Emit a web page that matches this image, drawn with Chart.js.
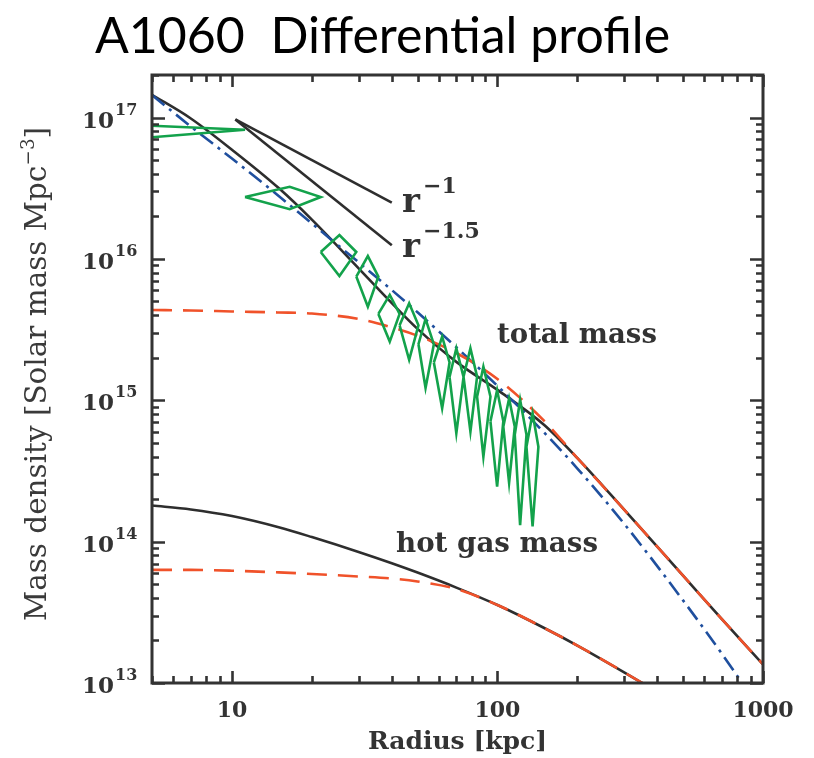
<!DOCTYPE html>
<html>
<head>
<meta charset="utf-8">
<script src="https://cdn.jsdelivr.net/npm/chart.js@4.4.0/dist/chart.umd.min.js"></script>
<style>
  html, body { margin: 0; padding: 0; background: #ffffff; }
  canvas { display: block; }
</style>
</head>
<body>
<canvas id="c" width="814" height="758"></canvas>
<script>
// Radius grid (kpc) for the model curves
const modelR = [5, 7, 10, 15, 20, 30, 40, 50, 70, 100, 150, 200, 300, 500, 700, 1000];
// Total mass density, solid model
const totalMassModel = [1.449e17, 9.85e16, 5.92e16, 3.17e16, 1.897e16, 8.58e15, 4.87e15, 3.20e15, 1.87e15, 1.184e15, 6.69e14, 3.90e14, 1.684e14, 5.75e13, 2.83e13, 1.354e13];
// Total mass density, dashed fit
const totalMassFit = [4.35e15, 4.32e15, 4.25e15, 4.18e15, 4.11e15, 3.76e15, 3.28e15, 2.86e15, 2.16e15, 1.414e15, 7.14e14, 3.90e14, 1.684e14, 5.75e13, 2.83e13, 1.354e13];
// Total mass density, dash-dot profile
const totalMassAlt = [1.443e17, 8.65e16, 5.13e16, 2.79e16, 1.78e16, 9.46e15, 6.02e15, 4.19e15, 2.37e15, 1.264e15, 5.90e14, 3.29e14, 1.338e14, 3.84e13, 1.61e13, 6.09e12];

// Hot gas mass density
const gasR = [5, 7, 10, 15, 20, 30, 40, 50, 70, 100, 150, 200, 300, 500];
const gasMassModel = [1.80e14, 1.69e14, 1.517e14, 1.264e14, 1.077e14, 8.45e13, 7.03e13, 6.04e13, 4.73e13, 3.56e13, 2.45e13, 1.84e13, 1.19e13, 6.7e12];
const gasMassFit = [6.31e13, 6.31e13, 6.23e13, 6.06e13, 5.91e13, 5.67e13, 5.49e13, 5.23e13, 4.63e13, 3.56e13, 2.45e13, 1.84e13, 1.19e13, 6.7e12];

// Power-law slope guides
const guideR = [10.3, 40];
const slopeMinus1 = [9.7e16, 2.5e16];
const slopeMinus15 = [9.7e16, 1.25e16];

// Binned measurements: bin centre, bin edges, density and its upper / lower bound
const obsR    = [4.0, 16.5, 25.4, 32.5, 39.3, 46.5, 53.6, 61.9, 70.0, 79.1, 88.5, 99.7, 110.6, 121.7, 135.6];
const obsRLo  = [2.0, 11.2, 21.6, 29.4, 35.6, 42.8, 50.4, 57.6, 66.0, 74.5, 83.8, 94.1, 105.2, 116.2, 128.6];
const obsRHi  = [11.2, 21.6, 29.4, 35.6, 42.8, 50.4, 57.6, 66.0, 74.5, 83.8, 94.1, 105.2, 116.2, 128.6, 142.6];
const obsRho  = [8.2e16, 2.74e16, 1.12e16, 7.5e15, 4.08e15, 3.39e15, 2.49e15, 1.85e15, 1.46e15, 1.47e15, 1.06e15, 7.1e14, 6.5e14, 5.7e14, 4.68e14];
const obsRhoHi = [8.92e16, 3.24e16, 1.475e16, 1.048e16, 5.56e15, 4.85e15, 3.76e15, 2.82e15, 2.33e15, 2.33e15, 1.73e15, 1.18e15, 1.03e15, 1.005e15, 8.09e14];
const obsRhoLo = [7.01e16, 2.25e16, 7.57e15, 4.59e15, 2.6e15, 1.93e15, 1.22e15, 8.77e14, 5.85e14, 6.0e14, 3.99e14, 2.45e14, 2.61e14, 1.31e14, 1.28e14];

// Axis ticks
const xTickValues = [10, 100, 1000];
const yTickExponents = [13, 14, 15, 16, 17];

const INK = '#333333';
const SERIF = '"DejaVu Serif", "Liberation Serif", serif';

const pairs = (xs, ys) => xs.map((v, i) => ({ x: v, y: ys[i] }));

// Each bin becomes a closed diamond; null points break the path between bins
const diamonds = [];
obsR.forEach((r, i) => {
  diamonds.push({ x: obsRLo[i], y: obsRho[i] });
  diamonds.push({ x: r, y: obsRhoHi[i] });
  diamonds.push({ x: obsRHi[i], y: obsRho[i] });
  diamonds.push({ x: r, y: obsRhoLo[i] });
  diamonds.push({ x: obsRLo[i], y: obsRho[i] });
  diamonds.push({ x: r, y: null });
});

const curve = (label, data, color, dash, order) => ({
  label, data, borderColor: color, borderWidth: 2.6, borderDash: dash,
  pointRadius: 0, fill: false, cubicInterpolationMode: 'monotone', order
});

function fitSize(ctx, text, weight, family, target) {
  ctx.font = `${weight} 100px ${family}`;
  return 100 * target / ctx.measureText(text).width;
}

const decor = {
  id: 'decor',
  beforeDraw(chart) {
    const { ctx, width, height } = chart;
    ctx.save();
    ctx.fillStyle = '#ffffff';
    ctx.fillRect(0, 0, width, height);
    ctx.restore();
  },
  afterDatasetsDraw(chart) {
    const { ctx, chartArea: a, scales: { x, y } } = chart;
    ctx.save();
    ctx.strokeStyle = INK;
    ctx.lineWidth = 2.6;
    ctx.lineCap = 'butt';
    // inward tick marks on all four sides
    ctx.beginPath();
    for (let d = 1; d <= 1000; d *= 10) {
      for (let m = 1; m <= 9; m++) {
        const v = m * d;
        if (v < 5 || v > 1000) continue;
        const px = Math.round(x.getPixelForValue(v)) + 0.5;
        const len = m === 1 ? 12 : 7;
        ctx.moveTo(px, a.bottom); ctx.lineTo(px, a.bottom - len);
        ctx.moveTo(px, a.top); ctx.lineTo(px, a.top + len);
      }
    }
    for (let e = 13; e <= 17; e++) {
      for (let m = 1; m <= 9; m++) {
        const v = m * Math.pow(10, e);
        if (v > y.max) continue;
        const py = Math.round(y.getPixelForValue(v)) + 0.5;
        const len = m === 1 ? 13 : 7;
        ctx.moveTo(a.left, py); ctx.lineTo(a.left + len, py);
        ctx.moveTo(a.right, py); ctx.lineTo(a.right - len, py);
      }
    }
    ctx.stroke();
    ctx.lineWidth = 3;
    ctx.strokeRect(a.left, a.top, a.right - a.left, a.bottom - a.top);
    ctx.restore();
  },
  afterDraw(chart) {
    const { ctx, scales: { y } } = chart;
    ctx.save();
    ctx.fillStyle = '#000000';
    ctx.textBaseline = 'alphabetic';

    // chart title
    ctx.font = '400 50px Lato, "Open Sans", sans-serif';
    ctx.textAlign = 'left';
    ctx.fillText('A1060  Differential profile', 95, 53, 577);

    ctx.fillStyle = INK;
    // y tick labels: 10 with raised exponent
    yTickExponents.forEach(e => {
      const py = y.getPixelForValue(Math.pow(10, e));
      ctx.font = `bold 23px ${SERIF}`;
      ctx.textAlign = 'right';
      ctx.fillText('10', 114, py + 10);
      ctx.font = `bold 16px ${SERIF}`;
      ctx.textAlign = 'left';
      ctx.fillText(String(e), 115, py - 3);
    });

    // y axis title with superscript
    ctx.save();
    ctx.translate(46, 374);
    ctx.rotate(-Math.PI / 2);
    ctx.fillStyle = '#3a3a3a';
    const main = 'Mass density [Solar mass Mpc';
    const sup = '\u22123';
    const close = ']';
    ctx.font = `400 100px ${SERIF}`;
    const wMain = ctx.measureText(main).width, wClose = ctx.measureText(close).width;
    ctx.font = `400 62px ${SERIF}`;
    const wSup = ctx.measureText(sup).width;
    const s = 100 * 494 / (wMain + wSup + wClose);
    let cx = -247;
    ctx.textAlign = 'left';
    ctx.font = `400 ${s}px ${SERIF}`;
    ctx.fillText(main, cx, 0); cx += wMain * s / 100;
    ctx.font = `400 ${s * 0.62}px ${SERIF}`;
    ctx.fillText(sup, cx, -s * 0.42); cx += wSup * s / 100;
    ctx.font = `400 ${s}px ${SERIF}`;
    ctx.fillText(close, cx, 0);
    ctx.restore();

    // curve annotations
    ctx.textAlign = 'left';
    let fs = fitSize(ctx, 'total mass', 'bold', SERIF, 160);
    ctx.font = `bold ${fs}px ${SERIF}`;
    ctx.fillText('total mass', 497, 343);
    fs = fitSize(ctx, 'hot gas mass', 'bold', SERIF, 202);
    ctx.font = `bold ${fs}px ${SERIF}`;
    ctx.fillText('hot gas mass', 396, 552);

    ctx.font = `bold 34px ${SERIF}`;
    ctx.fillText('r', 402, 212);
    ctx.fillText('r', 402, 257);
    ctx.font = `bold 22px ${SERIF}`;
    ctx.fillText('\u22121', 423, 193);
    ctx.fillText('\u22121.5', 423, 238);
    ctx.restore();
  }
};

new Chart(document.getElementById('c'), {
  type: 'line',
  data: {
    datasets: [
      { label: 'measured', data: diamonds, borderColor: '#13a24b', borderWidth: 2.6,
        pointRadius: 0, fill: false, tension: 0, spanGaps: false, order: 0 },
      curve('total fit', pairs(modelR, totalMassFit), '#f0522a', [20, 11], 1),
      curve('gas fit', pairs(gasR, gasMassFit), '#f0522a', [20, 11], 1),
      curve('total alt', pairs(modelR, totalMassAlt), '#1f4f9e', [16, 6, 3, 6], 2),
      curve('total model', pairs(modelR, totalMassModel), '#2e2e2e', [], 3),
      curve('gas model', pairs(gasR, gasMassModel), '#2e2e2e', [], 3),
      curve('r^-1', pairs(guideR, slopeMinus1), '#2e2e2e', [], 3),
      curve('r^-1.5', pairs(guideR, slopeMinus15), '#2e2e2e', [], 3)
    ]
  },
  options: {
    responsive: false,
    animation: false,
    events: [],
    layout: { padding: { top: 75, right: 51, left: 0, bottom: 0 } },
    scales: {
      x: {
        type: 'logarithmic', min: 5, max: 1000,
        grid: { display: false, drawTicks: false },
        border: { display: false },
        afterBuildTicks: s => { s.ticks = xTickValues.map(v => ({ value: v })); },
        ticks: {
          autoSkip: false, maxRotation: 0, padding: 15, color: INK,
          font: { family: SERIF, weight: 'bold', size: 22 },
          callback: v => String(v)
        },
        title: {
          display: true, text: 'Radius [kpc]', color: INK,
          font: { family: SERIF, weight: 'bold', size: 25 },
          padding: { top: 0, bottom: 1 }
        },
        afterFit: s => { s.height = 75; }
      },
      y: {
        type: 'logarithmic', min: 1e13, max: 2e17,
        grid: { display: false, drawTicks: false },
        border: { display: false },
        ticks: { display: false },
        afterFit: s => { s.width = 152; }
      }
    },
    plugins: { legend: { display: false }, tooltip: { enabled: false }, title: { display: false } }
  },
  plugins: [decor]
});
</script>
</body>
</html>
